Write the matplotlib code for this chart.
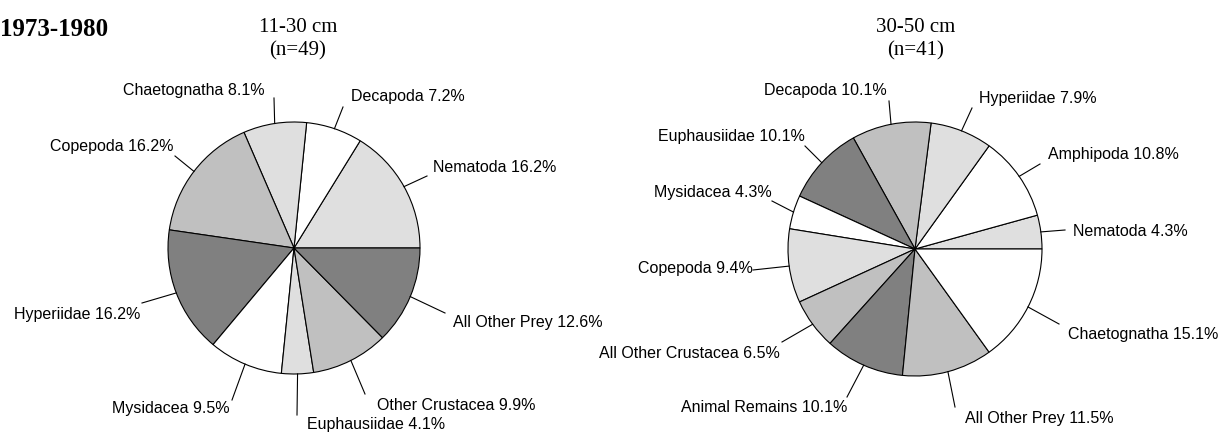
import matplotlib
matplotlib.use('Agg')
import matplotlib.pyplot as plt
import numpy as np

# diet composition, % by prey group (wedges go counterclockwise from 3 o'clock)
left_labels = ['Nematoda', 'Decapoda', 'Chaetognatha', 'Copepoda', 'Hyperiidae',
               'Mysidacea', 'Euphausiidae', 'Other Crustacea', 'All Other Prey']
left_pct = [16.2, 7.2, 8.1, 16.2, 16.2, 9.5, 4.1, 9.9, 12.6]

right_labels = ['Nematoda', 'Amphipoda', 'Hyperiidae', 'Decapoda', 'Euphausiidae',
                'Mysidacea', 'Copepoda', 'All Other Crustacea', 'Animal Remains',
                'All Other Prey', 'Chaetognatha']
right_pct = [4.3, 10.8, 7.9, 10.1, 10.1, 4.3, 9.4, 6.5, 10.1, 11.5, 15.1]

left_title = ['11-30 cm', '(n=49)']
right_title = ['30-50 cm', '(n=41)']
period = '1973-1980'

LT, MD, DK, WH = '#dfdfdf', '#c0c0c0', '#808080', '#ffffff'
left_cols = [LT, WH, LT, MD, DK, WH, LT, MD, DK]
right_cols = [LT, WH, LT, MD, DK, WH, LT, MD, DK, MD, WH]

W, H = 1227, 432

# label layout in pixels from top-left: leader end x, y, text x, y, alignment
left_layout = [
    (427, 176, 433, 167, 'left'),
    (343, 107, 351, 97, 'left'),
    (274, 98, 265, 90, 'right'),
    (175, 156, 173, 147, 'right'),
    (142, 303, 140, 314, 'right'),
    (232, 400, 230, 408, 'right'),
    (297, 415, 307, 424, 'left'),
    (365, 394, 377, 405, 'left'),
    (445, 313, 453, 322, 'left'),
]
right_layout = [
    (1065, 230, 1073, 231, 'left'),
    (1040, 164, 1048, 155, 'left'),
    (972, 108, 979, 99, 'left'),
    (889, 101, 887, 91, 'right'),
    (805, 146, 805, 137, 'right'),
    (772, 201, 772, 192, 'right'),
    (753, 270, 753, 269, 'right'),
    (782, 342, 780, 353, 'right'),
    (847, 397, 847, 407, 'right'),
    (955, 407, 965, 418, 'left'),
    (1059, 324, 1068, 335, 'left'),
]

fig = plt.figure(figsize=(W / 100, H / 100), dpi=100)
ax = fig.add_axes([0, 0, 1, 1])


def py(y):
    return H - y


def draw_pie(vals, names, cols, cx, cy, r, layout):
    wedges, _ = ax.pie(vals, colors=cols, startangle=0, counterclock=True,
                       center=(cx, py(cy)), radius=r,
                       wedgeprops=dict(edgecolor='black', linewidth=0.8))
    for w, name, v, (lx, ly, tx, ty, ha) in zip(wedges, names, vals, layout):
        a = np.deg2rad((w.theta1 + w.theta2) / 2)
        x0 = cx + r * np.cos(a)
        y0 = py(cy) + r * np.sin(a)
        ax.plot([x0, lx], [y0, py(ly)], color='black', lw=0.8)
        ax.text(tx, py(ty), '%s %.1f%%' % (name, v), ha=ha, va='center',
                fontsize=11.5, family='Liberation Sans')


draw_pie(left_pct, left_labels, left_cols, 294, 248, 126, left_layout)
draw_pie(right_pct, right_labels, right_cols, 915, 249, 127, right_layout)

ax.text(0, py(29), period, ha='left', va='center', fontsize=18,
        fontweight='bold', family='Liberation Serif')
ax.text(298, py(27), left_title[0], ha='center', va='center', fontsize=15,
        family='Liberation Serif')
ax.text(298, py(51), left_title[1], ha='center', va='center', fontsize=15,
        family='Liberation Serif')
ax.text(916, py(27), right_title[0], ha='center', va='center', fontsize=15,
        family='Liberation Serif')
ax.text(916, py(51), right_title[1], ha='center', va='center', fontsize=15,
        family='Liberation Serif')

ax.set_xlim(0, W)
ax.set_ylim(0, H)
ax.set_aspect('auto')
ax.axis('off')

fig.savefig('out.png', dpi=100)
